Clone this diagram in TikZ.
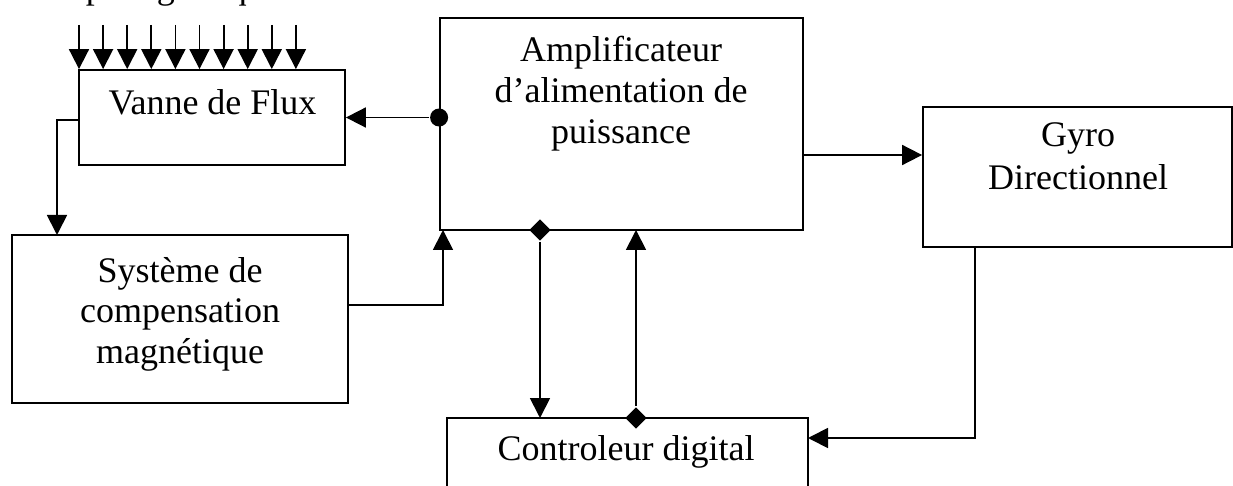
\documentclass[tikz,border=0pt]{standalone}
\usepackage{fontspec}
\setmainfont{Liberation Serif}
\usetikzlibrary{arrows.meta,shapes.geometric}
\begin{document}
\begin{tikzpicture}[x=1pt,y=-1pt,
  line width=1.8pt,
  box/.style={draw, line width=1.8pt, rectangle, inner sep=0pt},
  lbl/.style={font=\fontsize{36}{41}\selectfont, anchor=base, inner sep=0pt},
  arr/.style={-{Triangle[length=20pt,width=20pt]}},
  dmd/.style={diamond, fill=black, minimum size=22pt, inner sep=0pt},
  dotnode/.style={circle, fill=black, minimum size=18pt, inner sep=0pt}]
\useasboundingbox (0,0) rectangle (1233,486);
\clip (0,0) rectangle (1233,486);
\fill[white] (0,0) rectangle (1233,486);

% heading, cut off by the top edge as in the reference
\node[lbl, anchor=base west] (head) at (-1,-1) {Champ magnétique terrestre};

% boxes
\node[box, minimum width=266pt, minimum height=95pt] (vanne) at (212,117.5) {};
\node[box, minimum width=363pt, minimum height=212pt] (amp) at (621.5,124) {};
\node[box, minimum width=309pt, minimum height=140pt] (gyro) at (1077.5,177) {};
\node[box, minimum width=336pt, minimum height=168pt] (sys) at (180,319) {};
\node[box, minimum width=361pt, minimum height=100pt] (ctrl) at (627.5,468) {};

% texts
\node[lbl] (tvanne) at (212.5,115) {Vanne de Flux};
\node[lbl] (tamp1) at (621,62) {Amplificateur};
\node[lbl] (tamp2) at (621,103) {d’alimentation de};
\node[lbl] (tamp3) at (621,144) {puissance};
\node[lbl] (tgyro1) at (1078,147) {Gyro};
\node[lbl] (tgyro2) at (1078,190) {Directionnel};
\node[lbl] (tsys1) at (180,282) {Système de};
\node[lbl] (tsys2) at (180,322) {compensation};
\node[lbl] (tsys3) at (180,363) {magnétique};
\node[lbl] (tctrl) at (626,460) {Controleur digital};

% field arrows onto the flux valve
\foreach \i in {0,...,9} {
  \coordinate (t\i) at (79+24.1*\i,25);
  \draw[arr] (t\i) -- (t\i |- vanne.north);
}

% amplifier -> flux valve
\node[dotnode] (d1) at (amp.west |- vanne.east) {};
\draw[arr] (d1) -- (vanne.east);

% amplifier -> gyro
\coordinate (ag) at (803,155);
\draw[arr] (ag) -- (ag -| gyro.west);

% flux valve -> compensation system
\coordinate (vl) at (79,120);
\coordinate (sv) at (57,235);
\draw[arr] (vl) -| (sv);

% compensation system -> amplifier
\coordinate (sr) at (348,305);
\coordinate (ab1) at (443,230);
\draw[arr] (sr) -| (ab1);

% amplifier <-> controller
\node[dmd] (dm1) at (540,230) {};
\coordinate (c1) at (540,418);
\draw[arr] (dm1) -- (c1);
\node[dmd] (dm2) at (636,418) {};
\coordinate (ab2) at (636,230);
\draw[arr] (dm2) -- (ab2);

% gyro -> controller
\coordinate (gb) at (975,247);
\coordinate (ce) at (808,438);
\draw[arr] (gb) |- (ce);
\end{tikzpicture}
\end{document}
